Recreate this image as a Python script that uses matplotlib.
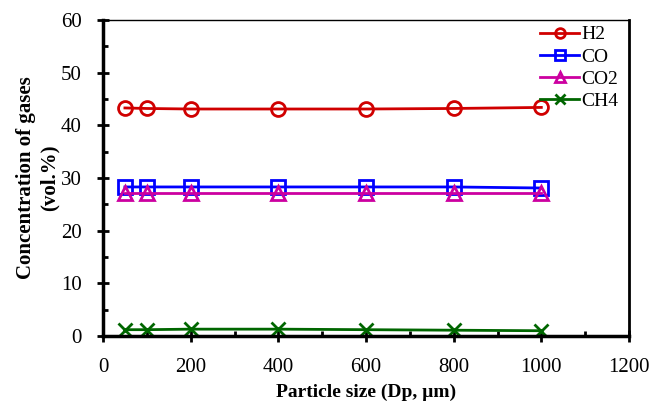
import numpy as np
import matplotlib.pyplot as plt
from matplotlib.ticker import MultipleLocator

plt.rcParams['font.family'] = ['Liberation Serif', 'DejaVu Serif']

# particle size (Dp, um)
dp = [50, 100, 200, 400, 600, 800, 1000]
# gas concentrations (vol.%)
h2 = [43.3, 43.2, 43.1, 43.1, 43.1, 43.2, 43.4]
co = [28.3, 28.3, 28.3, 28.3, 28.3, 28.3, 28.1]
co2 = [27.2, 27.2, 27.2, 27.2, 27.2, 27.2, 27.2]
ch4 = [1.2, 1.2, 1.3, 1.3, 1.2, 1.1, 1.0]

fig = plt.figure(figsize=(6.52, 4.01), dpi=100)
ax = fig.add_axes([103/652, 1-336/401, (629-103)/652, (336-20)/401])

style = dict(lw=2, ms=10, mew=2, mfc='none')
ax.plot(dp, h2, marker='o', color='#D00000', label='H2', **style)
ax.plot(dp, co, marker='s', color='#0000FF', label='CO', **style)
ax.plot(dp, co2, marker='^', color='#CC00A0', label='CO2', **style)
ax.plot(dp, ch4, marker='x', color='#006600', label='CH4', **style)

ax.set_xlim(0, 1200)
ax.set_ylim(0, 60)
ax.xaxis.set_major_locator(MultipleLocator(200))
ax.xaxis.set_minor_locator(MultipleLocator(100))
ax.yaxis.set_major_locator(MultipleLocator(10))
ax.yaxis.set_minor_locator(MultipleLocator(5))
ax.tick_params(which='major', direction='inout', length=9, width=2, labelsize=15)
ax.tick_params(which='minor', direction='in', length=3.5, width=2)
ax.tick_params(axis='x', pad=11)
ax.tick_params(axis='y', pad=11)
for s in ['left', 'bottom']:
    ax.spines[s].set_linewidth(2.5)
ax.spines['right'].set_linewidth(2)
ax.spines['top'].set_linewidth(1)

ax.set_xlabel('Particle size (Dp, µm)', fontsize=14, fontweight='bold', labelpad=5)
ax.set_ylabel('Concentration of gases\n(vol.%)', fontsize=15, fontweight='bold',
              labelpad=1, linespacing=1.2)

ax.legend(loc='upper right', bbox_to_anchor=(0.99, 1.0), frameon=False, fontsize=14,
          handlelength=2.0, handletextpad=0.1, labelspacing=0.24, borderpad=0.0,
          borderaxespad=0.3, markerscale=0.7)

fig.savefig('out.png', dpi=100)
